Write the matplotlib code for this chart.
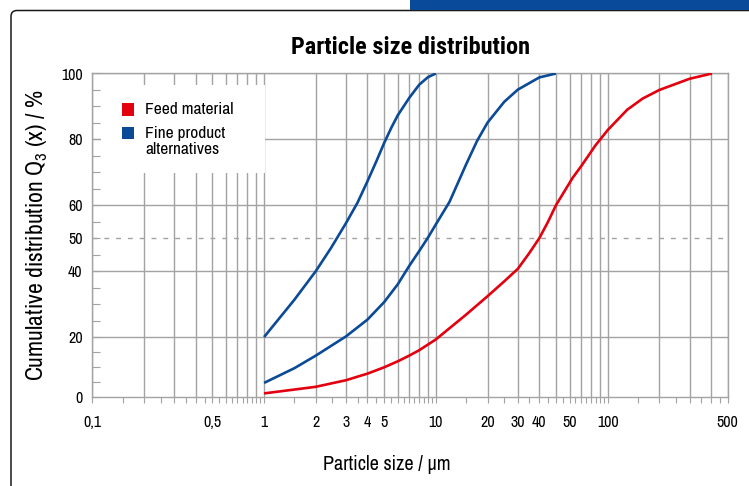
import numpy as np
import matplotlib
matplotlib.use("Agg")
import matplotlib.pyplot as plt
from matplotlib.patches import Rectangle, FancyBboxPatch
from matplotlib.transforms import IdentityTransform, ScaledTranslation
from matplotlib.ticker import FixedLocator, FixedFormatter, NullFormatter

FONT = ['Archivo Narrow', 'Liberation Sans Narrow', 'Liberation Sans', 'DejaVu Sans']
TITLE_FONT = ['Roboto Condensed', 'Asap Condensed', 'Archivo Narrow', 'DejaVu Sans']
plt.rcParams['font.family'] = FONT
plt.rcParams['mathtext.fontset'] = 'custom'
plt.rcParams['mathtext.rm'] = 'Archivo Narrow'

# ---------------- data ----------------
feed_x = [1, 2, 3, 4, 5, 6, 7, 8, 10, 15, 20, 25, 30, 35, 40, 45, 50, 62.5, 70, 85, 100, 130, 160, 200, 300, 405]
feed_y = [1.2, 3.4, 5.6, 7.8, 9.9, 11.9, 13.8, 15.6, 19.2, 26.8, 32.4, 36.9, 40.7, 45.5, 50, 55, 60,
          68.3, 71.8, 78.2, 82.8, 89, 92.4, 95, 98.4, 100]

fine1_x = [1, 1.5, 2, 2.45, 3, 3.5, 4, 4.5, 5, 5.5, 6, 7, 8, 9, 10]
fine1_y = [20, 31.3, 40, 47, 54.6, 60.8, 67.3, 73.3, 78.9, 83.5, 87.3, 92.6, 96.6, 98.9, 100]

fine2_x = [1, 1.5, 2, 3, 4, 5, 6, 7, 8, 9, 10, 12, 15, 17.4, 20, 25, 30, 40, 50]
fine2_y = [4.7, 9.6, 13.8, 20.2, 25.3, 30.6, 36, 41.6, 46.1, 50.2, 54.2, 61, 72.4, 79.6, 85.1, 91.4, 95.1, 98.8, 100]

x_tick_values = [0.1, 0.5, 1, 2, 3, 4, 5, 10, 20, 30, 40, 50, 100, 500]
x_tick_labels = ["0,1", "0,5", "1", "2", "3", "4", "5", "10", "20", "30", "40", "50", "100", "500"]
y_tick_values = [0, 20, 40, 50, 60, 80, 100]
y_tick_labels = ["0", "20", "40", "50", "60", "80", "100"]

legend_labels = ["Feed material", "Fine product\nalternatives"]
title = "Particle size distribution"
xlabel = "Particle size / µm"
ylabel = r"Cumulative distribution Q$_\mathregular{3}$ (x) / %"

RED = "#e3000f"
BLUE = "#0a4a96"
GRID = "#a3a3a3"

# ---------------- figure ----------------
W, H = 749, 486
fig = plt.figure(figsize=(W / 100, H / 100), dpi=100)

# outer rounded frame and blue bar (decoration)
frame = FancyBboxPatch((11, -40), 800, H - 10.5 + 40,
                       boxstyle="round,pad=0,rounding_size=6",
                       transform=IdentityTransform(), facecolor="none",
                       edgecolor="#1a1a1a", linewidth=1.1, zorder=-1)
fig.patches.append(frame)
bar = Rectangle((409.5, H - 9.5), W - 409.5 + 5, 10, transform=IdentityTransform(),
                facecolor="#0a4a9b", edgecolor="none", zorder=-1)
fig.patches.append(bar)

ax_l, ax_r, ax_t, ax_b = 92.3, 727.7, 73.5, 397.0
ax = fig.add_axes([ax_l / W, 1 - ax_b / H, (ax_r - ax_l) / W, (ax_b - ax_t) / H])
ax.set_facecolor("none")

# y scale: slightly compressed between 0 and 20 as in the reference
def fwd(y):
    y = np.asarray(y, dtype=float)
    return np.where(y < 20, y * 3.0, 60 + (y - 20) * 3.296)

def inv(p):
    p = np.asarray(p, dtype=float)
    return np.where(p < 60, p / 3.0, 20 + (p - 60) / 3.296)

ax.set_xscale("log")
ax.set_yscale("function", functions=(fwd, inv))
ax.set_xlim(0.1, 500)
ax.set_ylim(0, 100)

# grid
grid_x = [n * 10.0 ** k for k in range(-1, 3) for n in range(1, 10) if 0.1 <= n * 10.0 ** k <= 500]
ax.vlines(grid_x, 0, 100, colors=GRID, linewidth=1.0, zorder=0.5)
ax.hlines([20, 40, 60, 80, 100], 0.1, 500, colors=GRID, linewidth=1.0, zorder=0.5)
ax.hlines([50], 0.1, 500, colors=GRID, linewidth=1.0, linestyles=(0, (3.5, 5)), zorder=0.5)

# white area behind the legend
ax.add_patch(Rectangle((0.0135, 0.692), 0.272 - 0.0135, 0.9645 - 0.692,
                       transform=ax.transAxes, facecolor="white", edgecolor="none", zorder=1))

# curves
for xs, ys, c in [(feed_x, feed_y, RED), (fine1_x, fine1_y, BLUE), (fine2_x, fine2_y, BLUE)]:
    ax.plot(xs, ys, color=c, lw=1.9, zorder=3, solid_capstyle="butt", solid_joinstyle="round")

# legend (manual)
ax.add_patch(Rectangle((0.0463, 0.8686), 0.0193, 0.0394, transform=ax.transAxes,
                       facecolor=RED, edgecolor="none", zorder=4))
ax.add_patch(Rectangle((0.0463, 0.7966), 0.0193, 0.0394, transform=ax.transAxes,
                       facecolor=BLUE, edgecolor="none", zorder=4))
ax.text(0.083, 0.889, legend_labels[0], transform=ax.transAxes, fontsize=12.5,
        va="center", ha="left", zorder=4)
ax.text(0.083, 0.837, legend_labels[1], transform=ax.transAxes, fontsize=12.5,
        va="top", ha="left", linespacing=1.08, zorder=4)

# x ticks
minor_x = sorted(set([v for v in grid_x if v not in x_tick_values] +
                     [(n + 0.5) * 10.0 ** k for k in range(-1, 3) for n in range(1, 10)
                      if (n + 0.5) * 10.0 ** k < 500]))
ax.xaxis.set_major_locator(FixedLocator(x_tick_values))
ax.xaxis.set_major_formatter(FixedFormatter(x_tick_labels))
ax.xaxis.set_minor_locator(FixedLocator(minor_x))
ax.xaxis.set_minor_formatter(NullFormatter())
ax.tick_params(axis="x", which="both", direction="out", length=4.2, width=0.8,
               color=GRID, labelsize=11.5, pad=9)

# the reference prints its "50" label a little to the right of the tick
ticks = ax.xaxis.get_major_ticks(len(x_tick_values))
t50 = ticks[x_tick_labels.index("50")].label1
t50.set_transform(t50.get_transform() + ScaledTranslation(14 / 100, 0, fig.dpi_scale_trans))

# y ticks
ax.yaxis.set_major_locator(FixedLocator(y_tick_values))
ax.yaxis.set_major_formatter(FixedFormatter(y_tick_labels))
ax.yaxis.set_minor_locator(FixedLocator([v for v in range(0, 101, 5) if v not in y_tick_values]))
ax.yaxis.set_minor_formatter(NullFormatter())
ax.tick_params(axis="y", which="both", direction="in", length=5.5, width=0.8,
               color=GRID, labelsize=11.5, pad=7)

for s in ax.spines.values():
    s.set_color(GRID)
    s.set_linewidth(1.0)

ax.set_title(title, fontsize=17.5, fontweight="bold", family=TITLE_FONT, pad=14)
ax.set_xlabel(xlabel, fontsize=14.5, labelpad=18)
ax.xaxis.label.set_x(0.464)
ax.set_ylabel(ylabel, fontsize=17, labelpad=8)

fig.savefig("out.png", dpi=100)
